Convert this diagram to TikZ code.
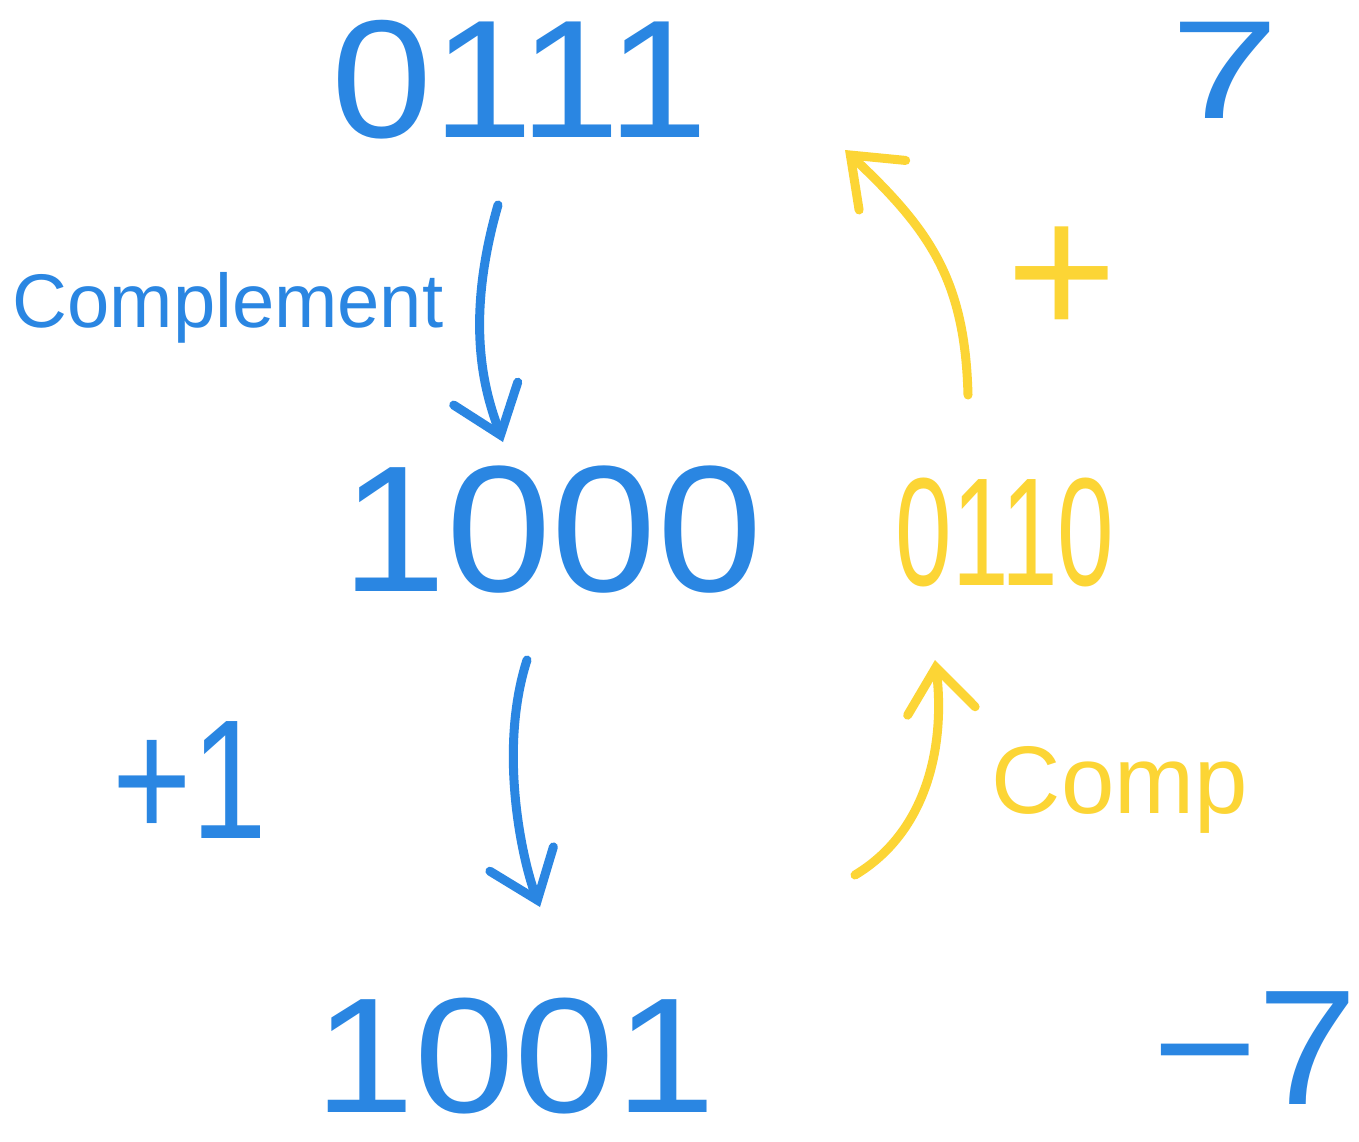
\documentclass[tikz,border=0pt]{standalone}
\usepackage{fontspec}
\setmainfont{Liberation Sans}
\usetikzlibrary{arrows.meta,calc}
\definecolor{penblue}{HTML}{2A86E2}
\definecolor{penyellow}{HTML}{FCD535}
\begin{document}
\begin{tikzpicture}[x=0.5pt,y=-0.5pt,
  lbl/.style={inner sep=0pt, anchor=center},
  bluetxt/.style={lbl,text=penblue},
  yeltxt/.style={lbl,text=penyellow},
  pen/.style={line width=4.5pt, line cap=round, line join=round,
    -{Straight Barb[length=22pt,width=34pt,line cap=round]}},
  bluearrow/.style={pen,draw=penblue},
  yelarrow/.style={pen,draw=penyellow}]
\fill[white] (0,0) rectangle (1359,1141);
\useasboundingbox (0,0) rectangle (1359,1141);
% labels
\node[bluetxt,font=\fontsize{84}{84}\selectfont,xscale=1.08] (n0111) at (520,80) {0111};
\node[bluetxt,font=\fontsize{70}{70}\selectfont,xscale=1.4] (n7) at (1225,70) {7};
\node[bluetxt,font=\fontsize{38}{38}\selectfont] (ncompl) at (228,308) {Complement};
\node[bluetxt,font=\fontsize{90}{90}\selectfont,xscale=1.05] (n1000) at (552,530) {1000};
\node[yeltxt,font=\fontsize{77}{77}\selectfont,xscale=0.66] (n0110) at (1005,532) {0110};
\node[bluetxt,font=\fontsize{85}{85}\selectfont,xscale=0.8] (nplus1) at (190,780) {+1};
\node[yeltxt,font=\fontsize{48}{48}\selectfont] (ncomp) at (1120,790) {Comp};
\node[bluetxt,font=\fontsize{82}{82}\selectfont,xscale=1.1,text depth=0pt] (n1001) at (515,1055) {1001};
\node[bluetxt,font=\fontsize{82}{82}\selectfont,xscale=1.1] (nminus7) at (1255,1048) {−7};
\node[yeltxt,font=\fontsize{95}{95}\selectfont] (nplus) at (1062,282) {+};
% arrows
\draw[bluearrow] ($(n0111.center)+(-22,125)$) .. controls (462,330) and (488,400) .. ($(n1000.center)+(-49,-88)$);
\draw[bluearrow] ($(n1000.center)+(-25,130)$) .. controls (498,750) and (522,860) .. ($(n1001.center)+(25,-148)$);
\draw[yelarrow] ($(n1001.center)+(340,-180)$) .. controls (930,830) and (945,740) .. ($(n0110.center)+(-70,128)$);
\draw[yelarrow] ($(n0110.center)+(-37,-137)$) .. controls (965,280) and (930,230) .. ($(n0111.center)+(325,70)$);
\end{tikzpicture}
\end{document}
